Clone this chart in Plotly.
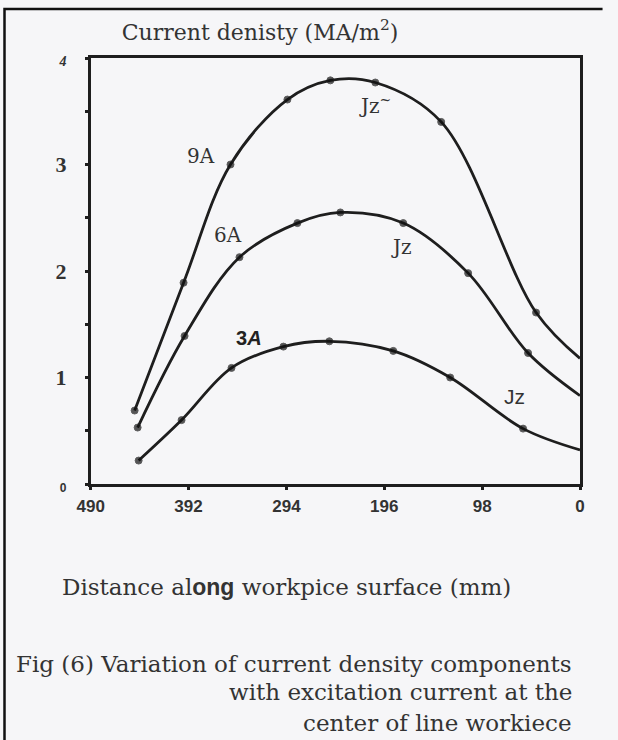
import plotly.graph_objects as go

# ---- data ----
dist_9A = [446, 397, 350, 293, 250, 205, 139, 44, 0]
jz_9A   = [0.69, 1.89, 3.00, 3.61, 3.79, 3.77, 3.40, 1.61, 1.18]
dist_6A = [443, 396, 341, 283, 240, 177, 112, 52, 0]
jz_6A   = [0.53, 1.39, 2.13, 2.45, 2.55, 2.45, 1.98, 1.23, 0.83]
dist_3A = [442, 399, 349, 297, 251, 187, 130, 57, 0]
jz_3A   = [0.22, 0.60, 1.09, 1.29, 1.34, 1.25, 1.00, 0.52, 0.32]

x_ticks = [490, 392, 294, 196, 98, 0]
x_tick_labels = ["490", "392", "294", "196", "98", "0"]
y_ticks = [0, 1, 2, 3, 4]
y_tick_labels = ["0", "1", "2", "3", "4"]
y_minor_ticks = [0.5, 1.5, 2.5, 3.5]

W, H = 618, 740
INK = "#1e1e1e"
BG = "#f6f6f8"

fig = go.Figure()
for xs, ys in [(dist_9A, jz_9A), (dist_6A, jz_6A), (dist_3A, jz_3A)]:
    sizes = [7] * (len(xs) - 1) + [0]
    fig.add_trace(go.Scatter(
        x=xs, y=ys, mode="lines+markers",
        line=dict(color=INK, width=2.8, shape="spline", smoothing=1.0),
        marker=dict(color="#111111", size=sizes),
        showlegend=False, hoverinfo="skip"))

# y tick text styling
y_text = []
for t in y_tick_labels:
    if t == "0":
        y_text.append("<span style='font-size:12px;font-family:Liberation Sans'>0</span>")
    elif t == "4":
        y_text.append("<span style='font-size:14px'><i>4</i></span>")
    else:
        y_text.append(t)

fig.update_layout(
    width=W, height=H,
    margin=dict(l=0, r=0, t=0, b=0),
    paper_bgcolor=BG, plot_bgcolor=BG,
    title=dict(text="Current denisty (MA/m<sup>2</sup>)",
               x=260 / W, xanchor="center", xref="paper",
               y=1 - 32 / H, yanchor="middle", yref="paper",
               font=dict(family="DejaVu Serif", size=22, color="#333333")),
    xaxis=dict(range=[490, 0], domain=[90.7 / W, 580 / W],
               tickvals=x_ticks, ticktext=x_tick_labels,
               showline=True, mirror=True, linecolor=INK, linewidth=2.6,
               ticks="outside", ticklen=3, tickwidth=3, tickcolor=INK,
               ticklabelstandoff=2,
               tickfont=dict(family="Liberation Sans", size=17, color="#333333", weight="bold"),
               showgrid=False, zeroline=False, automargin=False),
    yaxis=dict(range=[0, 4], domain=[1 - 484 / H, 1 - 58 / H],
               tickvals=y_ticks, ticktext=y_text,
               minor=dict(tickmode="array", tickvals=y_minor_ticks, ticks="outside",
                          ticklen=3, tickwidth=3, tickcolor=INK, showgrid=False),
               showline=True, mirror=True, linecolor=INK, linewidth=2.6,
               ticks="outside", ticklen=3, tickwidth=3, tickcolor=INK,
               ticklabelstandoff=14,
               tickfont=dict(family="Liberation Serif", size=22, color="#333333", weight="bold"),
               showgrid=False, zeroline=False, automargin=False),
)

# curve labels
labels = [
    (380, 3.08, "9A", dict(family="DejaVu Serif", size=20, color="#333333")),
    (353, 2.34, "6A", dict(family="DejaVu Serif", size=20, color="#333333")),
    (331, 1.37, "<b>3</b><b><i>A</i></b>", dict(family="Liberation Sans", size=20, color="#222222")),
    (205, 3.56, "Jz<sup>~</sup>", dict(family="DejaVu Serif", size=20, color="#333333")),
    (179, 2.23, "Jz", dict(family="DejaVu Serif", size=20, color="#333333")),
    (66, 0.82, "Jz", dict(family="Liberation Sans", size=21, color="#333333")),
]
for x, y, t, f in labels:
    fig.add_annotation(x=x, y=y, xref="x", yref="y", text=t, showarrow=False,
                       font=f, xanchor="center", yanchor="middle")

# axis title and caption
cap_font = dict(family="DejaVu Serif", size=23, color="#333333")
fig.add_annotation(x=286 / W, y=1 - 587 / H, xref="paper", yref="paper",
                   text="Distance al<b><span style='font-family:Liberation Sans'>ong</span></b> workpice surface (mm)",
                   showarrow=False, font=cap_font, xanchor="center", yanchor="middle")
caption = [
    ("Fig (6) Variation of current density components", 664),
    ("with excitation current at the", 692),
    ("center of line workiece", 723),
]
for t, yy in caption:
    fig.add_annotation(x=574 / W, y=1 - yy / H, xref="paper", yref="paper",
                       text=t, showarrow=False, font=cap_font,
                       xanchor="right", yanchor="middle")

# outer frame of the scanned figure: left and top edges
fx = 4.5 / W
fy = 1 - 9 / H
fig.add_shape(type="path", xref="paper", yref="paper",
              path=f"M {fx},-0.01 L {fx},{fy} L 0.975,{fy}",
              line=dict(color="#111111", width=2.5),
              fillcolor="rgba(0,0,0,0)")

fig.write_html("out.html",
               post_script="document.body.style.margin='0';document.body.style.overflow='hidden';")
